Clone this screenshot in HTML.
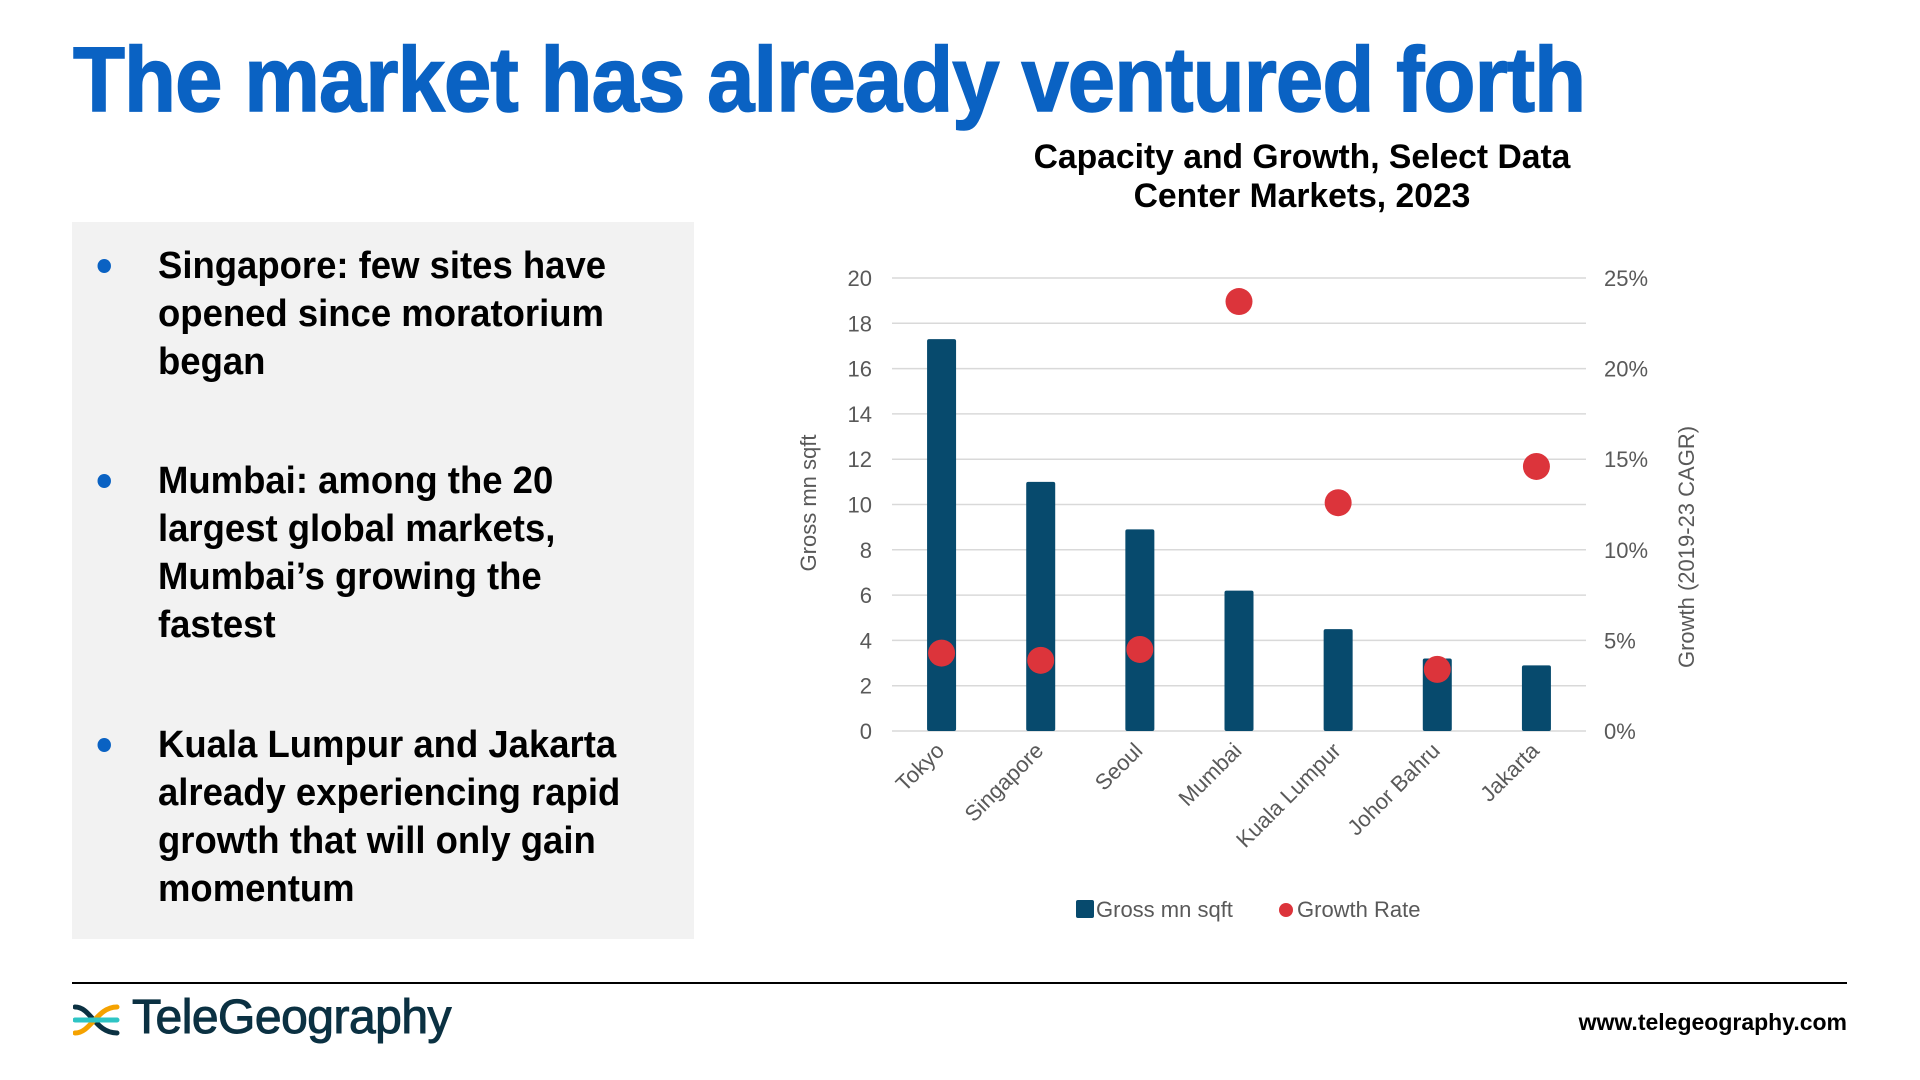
<!DOCTYPE html>
<html><head><meta charset="utf-8"><style>
body{margin:0;width:1920px;height:1080px;background:#fff;overflow:hidden;position:relative;font-family:"Liberation Sans",sans-serif}
#title{position:absolute;left:73px;top:28px;font-size:92px;font-weight:bold;color:#0a62c3;white-space:nowrap;transform-origin:0 0;transform:scaleX(0.925);letter-spacing:-1px;-webkit-text-stroke:1.5px #0a62c3}
#box{position:absolute;left:72px;top:222px;width:622px;height:717px;background:#f2f2f2}
.b{position:absolute;left:86px;font-size:38px;font-weight:bold;line-height:48px;color:#000;width:520px;transform-origin:0 0;transform:scaleX(0.96)}
.dot{position:absolute;left:-63px;top:17px;width:14px;height:14px;border-radius:50%;background:#0a62c3}
#ctitle{position:absolute;left:1002px;width:600px;top:138px;text-align:center;font-size:34px;font-weight:bold;line-height:39px;transform:scaleX(0.99)}
#rule{position:absolute;left:72px;top:982px;width:1775px;height:2px;background:#000}
#logo{position:absolute;left:132px;top:990px;font-size:48px;color:#0b3142;letter-spacing:-0.5px;-webkit-text-stroke:1px #0b3142}
#url{position:absolute;right:73px;top:1009px;font-size:23px;font-weight:bold}
</style></head><body>
<div id="title">The market has already ventured forth</div>
<div id="box">
<div class="b" style="top:20px"><span class="dot"></span>Singapore: few sites have<br>opened since moratorium<br>began</div>
<div class="b" style="top:235px"><span class="dot"></span>Mumbai: among the 20<br>largest global markets,<br>Mumbai’s growing the<br>fastest</div>
<div class="b" style="top:499px"><span class="dot"></span>Kuala Lumpur and Jakarta<br>already experiencing rapid<br>growth that will only gain<br>momentum</div>
</div>
<div id="ctitle">Capacity and Growth, Select Data<br>Center Markets, 2023</div>
<svg id="chart" width="1920" height="1080" style="position:absolute;left:0;top:0"></svg>
<div id="rule"></div>
<svg style="position:absolute;left:73px;top:1003px" width="52" height="34">
<path d="M2 4 C18 4,22 30,44 30" stroke="#0b3142" stroke-width="5" fill="none" stroke-linecap="round"/>
<path d="M2 30 C18 30,24 4,44 4" stroke="#f5a200" stroke-width="5" fill="none" stroke-linecap="round"/>
<line x1="2" y1="17" x2="44" y2="17" stroke="#2ec4c4" stroke-width="5" stroke-linecap="round"/>
</svg>
<div id="logo">TeleGeography</div>
<div id="url">www.telegeography.com</div>
<script>
const categories=["Tokyo","Singapore","Seoul","Mumbai","Kuala Lumpur","Johor Bahru","Jakarta"];
const grossValues=[17.3,11.0,8.9,6.2,4.5,3.2,2.9];
const growthValues=[4.3,3.9,4.5,23.7,12.6,3.4,14.6];
const leftTicks=[0,2,4,6,8,10,12,14,16,18,20];
const rightTicks=[0,5,10,15,20,25];
const svg=document.getElementById('chart');const NS='http://www.w3.org/2000/svg';
const X0=892,X1=1586,Y0=731,Y1=278;
const yL=v=>Y0-(v/20)*(Y0-Y1);const yR=v=>Y0-(v/25)*(Y0-Y1);
const band=(X1-X0)/categories.length;const xC=i=>X0+band*(i+0.5);
function mk(t,a,txt){const e=document.createElementNS(NS,t);for(const k in a)e.setAttribute(k,a[k]);if(txt!=null)e.textContent=txt;svg.appendChild(e);return e;}
const F='Liberation Sans, sans-serif';
leftTicks.forEach(v=>{const g=mk('line',{x1:X0,x2:X1,y1:yL(v),y2:yL(v),stroke:'#d9d9d9','stroke-width':1.5});

const t=mk('text',{x:872,y:yL(v)+8,'text-anchor':'end','font-size':22,fill:'#595959','font-family':F},v);
});
rightTicks.forEach(v=>{const t=mk('text',{x:1604,y:yR(v)+8,'font-size':22,fill:'#595959','font-family':F},v+'%');
});
grossValues.forEach((v,i)=>{const r=mk('rect',{x:xC(i)-14.5,y:yL(v),width:29,height:Y0-yL(v),fill:'#074a6d',rx:2});
});
growthValues.forEach((v,i)=>{const c=mk('circle',{cx:xC(i),cy:yR(v),r:13.5,fill:'#dc343b'});
});
categories.forEach((c,i)=>{const x=xC(i)+4,y=752;const t=mk('text',{x:x,y:y,'text-anchor':'end','font-size':22,fill:'#595959','font-family':F,transform:`rotate(-45 ${x} ${y})`},c);
});
let t=mk('text',{x:816,y:503,'text-anchor':'middle','font-size':22,fill:'#595959','font-family':F,transform:'rotate(-90 816 503)'},'Gross mn sqft');

t=mk('text',{x:1694,y:547,'text-anchor':'middle','font-size':22,fill:'#595959','font-family':F,transform:'rotate(-90 1694 547)'},'Growth (2019-23 CAGR)');

let l=mk('rect',{x:1076,y:900,width:18,height:18,fill:'#074a6d',rx:2});
t=mk('text',{x:1096,y:917,'font-size':22,fill:'#595959','font-family':F},'Gross mn sqft');
l=mk('circle',{cx:1286,cy:910,r:7,fill:'#dc343b'});
t=mk('text',{x:1297,y:917,'font-size':22,fill:'#595959','font-family':F},'Growth Rate');
</script>
</body></html>
